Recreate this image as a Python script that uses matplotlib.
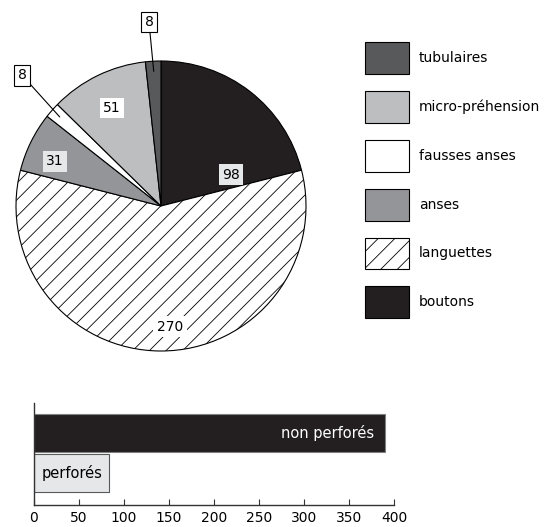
import numpy as np
import matplotlib.pyplot as plt
from matplotlib.patches import Patch

plt.rcParams['font.family'] = ['DejaVu Sans']
plt.rcParams['hatch.linewidth'] = 0.6

# pie data, drawn clockwise from 12 o'clock
categories = ['boutons', 'languettes', 'anses', 'fausses anses', 'micro-préhension', 'tubulaires']
counts = [98, 270, 31, 8, 51, 8]
colors = ['#231f20', 'white', '#939598', 'white', '#bcbec0', '#58595b']
hatches = [None, '//', None, None, None, None]

# bar data
bar_labels = ['perforés', 'non perforés']
bar_values = [83, 390]
bar_colors = ['#e6e7e8', '#231f20']

fig = plt.figure(figsize=(5.44, 5.27), dpi=100)

# ---- pie ----
ax = fig.add_axes([16 / 544, 176 / 527, 290 / 544, 290 / 527])
wedges, _ = ax.pie(counts, colors=colors, startangle=90, counterclock=False,
                   radius=1, wedgeprops=dict(edgecolor='black', linewidth=0.8))
for w, h in zip(wedges, hatches):
    if h:
        w.set_hatch(h)
ax.set_xlim(-1, 1)
ax.set_ylim(-1, 1)
ax.set_aspect('equal')
ax.axis('off')

# labels inside slices
inside = {0: ((0.483, 0.214), '#e6e7e8'),
          1: ((0.062, -0.834), 'white'),
          2: ((-0.731, 0.310), '#e6e7e8'),
          4: ((-0.338, 0.676), 'white')}
for i, (pos, bg) in inside.items():
    ax.text(pos[0], pos[1], str(counts[i]), ha='center', va='center', fontsize=10,
            bbox=dict(boxstyle='square,pad=0.25', fc=bg, ec='none'))

# small slices: boxed labels with leader lines
outside = {3: (-0.959, 0.903), 5: (-0.083, 1.269)}
for i, pos in outside.items():
    w = wedges[i]
    mid = np.deg2rad((w.theta1 + w.theta2) / 2)
    ax.annotate(str(counts[i]), xy=(0.93 * np.cos(mid), 0.93 * np.sin(mid)),
                xytext=pos, ha='center', va='center', fontsize=10,
                bbox=dict(boxstyle='square,pad=0.25', fc='white', ec='black', lw=0.8),
                arrowprops=dict(arrowstyle='-', color='black', lw=0.8,
                                shrinkA=0, shrinkB=0),
                annotation_clip=False)

handles = [Patch(facecolor=c, edgecolor='black', hatch=h, linewidth=0.8, label=l)
           for c, h, l in zip(colors, hatches, categories)][::-1]
fig.legend(handles=handles, loc='upper left', bbox_to_anchor=(365 / 544, 1 - 42 / 527),
           frameon=False, fontsize=10, handlelength=3.17, handleheight=3.16,
           labelspacing=1.22, handletextpad=0.72, borderpad=0, borderaxespad=0)

# ---- bars ----
bx = fig.add_axes([34 / 544, 22 / 527, 360 / 544, 102 / 527])
ypos = np.arange(len(bar_values))
bars = bx.barh(ypos, bar_values, height=0.94, color=bar_colors,
               edgecolor=['#58595b', '#808080'], linewidth=0.8)
bx.set_xlim(0, 400)
bx.set_ylim(-0.78, 1.74)
bx.set_xticks(np.arange(0, 401, 50))
bx.set_yticks([])
bx.tick_params(axis='x', direction='in', length=4, pad=4, labelsize=10,
               color='#333333')
for s in ['top', 'right']:
    bx.spines[s].set_visible(False)
for s in ['left', 'bottom']:
    bx.spines[s].set_color('#333333')
    bx.spines[s].set_linewidth(1)

bx.text(8, ypos[0], bar_labels[0], ha='left', va='center', fontsize=10.5, color='black')
bx.text(bar_values[1] - 12, ypos[1], bar_labels[1], ha='right', va='center',
        fontsize=10.5, color='white')

fig.savefig('out.png', dpi=100)
